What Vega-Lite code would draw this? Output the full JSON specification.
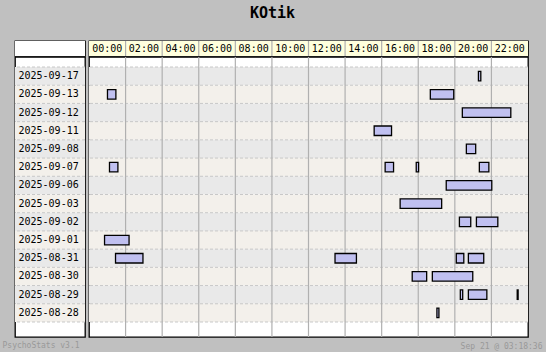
{
  "$schema": "https://vega.github.io/schema/vega-lite/v6.json",
  "background": "#c0c0c0",
  "padding": {"left": 1, "top": 5, "right": 4, "bottom": 0},
  "bounds": "flush",
  "columns": 2,
  "spacing": {"row": 1, "column": 4},
  "title": {"text": "KOtik", "font": "DejaVu Sans Mono", "fontSize": 15, "fontWeight": "bold", "color": "#000000", "anchor": "middle", "offset": 19},
  "config": {
    "view": {"stroke": "#000000", "strokeWidth": 1.3, "fill": "#ffffff"},
    "text": {"font": "DejaVu Sans Mono"}
  },
  "datasets": {
    "days": [
      {"date": "2025-09-17"}, {"date": "2025-09-13"}, {"date": "2025-09-12"}, {"date": "2025-09-11"},
      {"date": "2025-09-08"}, {"date": "2025-09-07"}, {"date": "2025-09-06"}, {"date": "2025-09-03"},
      {"date": "2025-09-02"}, {"date": "2025-09-01"}, {"date": "2025-08-31"}, {"date": "2025-08-30"},
      {"date": "2025-08-29"}, {"date": "2025-08-28"}
    ],
    "cells": [
      {"start": 0, "end": 2, "label": "00:00"}, {"start": 2, "end": 4, "label": "02:00"},
      {"start": 4, "end": 6, "label": "04:00"}, {"start": 6, "end": 8, "label": "06:00"},
      {"start": 8, "end": 10, "label": "08:00"}, {"start": 10, "end": 12, "label": "10:00"},
      {"start": 12, "end": 14, "label": "12:00"}, {"start": 14, "end": 16, "label": "14:00"},
      {"start": 16, "end": 18, "label": "16:00"}, {"start": 18, "end": 20, "label": "18:00"},
      {"start": 20, "end": 22, "label": "20:00"}, {"start": 22, "end": 24, "label": "22:00"}
    ],
    "bars": [
      {"date": "2025-09-17", "start": 21.29, "end": 21.42},
      {"date": "2025-09-13", "start": 1.01, "end": 1.47},
      {"date": "2025-09-13", "start": 18.66, "end": 19.94},
      {"date": "2025-09-12", "start": 20.41, "end": 23.06},
      {"date": "2025-09-11", "start": 15.59, "end": 16.54},
      {"date": "2025-09-08", "start": 20.63, "end": 21.14},
      {"date": "2025-09-07", "start": 1.12, "end": 1.58},
      {"date": "2025-09-07", "start": 16.19, "end": 16.65},
      {"date": "2025-09-07", "start": 17.89, "end": 18.02},
      {"date": "2025-09-07", "start": 21.34, "end": 21.86},
      {"date": "2025-09-06", "start": 19.53, "end": 22.02},
      {"date": "2025-09-03", "start": 17.01, "end": 19.28},
      {"date": "2025-09-02", "start": 20.25, "end": 20.87},
      {"date": "2025-09-02", "start": 21.18, "end": 22.35},
      {"date": "2025-09-01", "start": 0.85, "end": 2.19},
      {"date": "2025-08-31", "start": 1.45, "end": 2.95},
      {"date": "2025-08-31", "start": 13.45, "end": 14.62},
      {"date": "2025-08-31", "start": 20.08, "end": 20.49},
      {"date": "2025-08-31", "start": 20.74, "end": 21.58},
      {"date": "2025-08-30", "start": 17.67, "end": 18.46},
      {"date": "2025-08-30", "start": 18.77, "end": 20.98},
      {"date": "2025-08-29", "start": 20.30, "end": 20.43},
      {"date": "2025-08-29", "start": 20.74, "end": 21.75},
      {"date": "2025-08-29", "start": 23.41, "end": 23.46},
      {"date": "2025-08-28", "start": 19.02, "end": 19.13}
    ]
  },
  "concat": [
    {
      "width": 70, "height": 15,
      "data": {"values": [{"k": 1}]},
      "mark": {"type": "rect", "fill": "#ffffff"},
      "encoding": {
        "x": {"datum": 0, "type": "quantitative", "scale": {"domain": [0, 1], "nice": false}, "axis": null},
        "x2": {"datum": 1}
      }
    },
    {
      "width": 439, "height": 15,
      "data": {"name": "cells"},
      "layer": [
        {
          "mark": {"type": "rect", "fill": "#ffffdd"},
          "encoding": {
            "x": {"field": "start", "type": "quantitative", "scale": {"domain": [0, 24], "nice": false, "zero": false}, "axis": null},
            "x2": {"field": "end"}
          }
        },
        {
          "transform": [{"filter": "datum.start > 0"}],
          "mark": {"type": "rule", "color": "#b0b0b0", "strokeWidth": 1.2},
          "encoding": {"x": {"field": "start", "type": "quantitative"}}
        },
        {
          "mark": {"type": "text", "align": "center", "baseline": "middle", "dx": 18.3, "fontSize": 10, "color": "#000000"},
          "encoding": {
            "x": {"field": "start", "type": "quantitative"},
            "text": {"field": "label"}
          }
        }
      ]
    },
    {
      "width": 70, "height": 280,
      "title": {"text": "PsychoStats v3.1", "orient": "bottom", "anchor": "start", "dx": -12, "offset": 5, "font": "DejaVu Sans Mono", "fontSize": 8, "fontWeight": "normal", "color": "#999999"},
      "data": {"name": "days"},
      "layer": [
        {
          "mark": {"type": "rect"},
          "encoding": {
            "y": {"field": "date", "type": "nominal", "sort": null, "axis": null,
              "scale": {"domain": ["2025-09-17","2025-09-13","2025-09-12","2025-09-11","2025-09-08","2025-09-07","2025-09-06","2025-09-03","2025-09-02","2025-09-01","2025-08-31","2025-08-30","2025-08-29","2025-08-28"], "paddingInner": 0, "paddingOuter": 0.687, "align": 0.4}},
            "color": {"field": "date", "type": "nominal", "legend": null,
              "scale": {"domain": ["2025-09-17","2025-09-13","2025-09-12","2025-09-11","2025-09-08","2025-09-07","2025-09-06","2025-09-03","2025-09-02","2025-09-01","2025-08-31","2025-08-30","2025-08-29","2025-08-28"],
                "range": ["#e9e9e9","#f3f0eb","#e9e9e9","#f3f0eb","#e9e9e9","#f3f0eb","#e9e9e9","#f3f0eb","#e9e9e9","#f3f0eb","#e9e9e9","#f3f0eb","#e9e9e9","#f3f0eb"]}}
          }
        },
        {
          "mark": {"type": "rule", "color": "#c8c8c8", "strokeDash": [3, 2], "strokeWidth": 1},
          "encoding": {"y": {"field": "date", "type": "nominal", "bandPosition": 0}}
        },
        {
          "transform": [{"filter": "datum.date == '2025-08-28'"}],
          "mark": {"type": "rule", "color": "#c8c8c8", "strokeDash": [3, 2], "strokeWidth": 1},
          "encoding": {"y": {"field": "date", "type": "nominal", "bandPosition": 1}}
        },
        {
          "mark": {"type": "text", "align": "left", "baseline": "middle", "dx": 3.5, "fontSize": 10, "color": "#000000"},
          "encoding": {
            "x": {"datum": 0, "type": "quantitative", "scale": {"domain": [0, 1]}, "axis": null},
            "y": {"field": "date", "type": "nominal"},
            "text": {"field": "date"}
          }
        }
      ]
    },
    {
      "width": 439, "height": 280,
      "title": {"text": "Sep 21 @ 03:18:36", "orient": "bottom", "anchor": "end", "dx": 14, "offset": 5, "font": "DejaVu Sans Mono", "fontSize": 8, "fontWeight": "normal", "color": "#999999"},
      "layer": [
        {
          "data": {"name": "days"},
          "mark": {"type": "rect"},
          "encoding": {
            "y": {"field": "date", "type": "nominal", "sort": null, "axis": null,
              "scale": {"domain": ["2025-09-17","2025-09-13","2025-09-12","2025-09-11","2025-09-08","2025-09-07","2025-09-06","2025-09-03","2025-09-02","2025-09-01","2025-08-31","2025-08-30","2025-08-29","2025-08-28"], "paddingInner": 0, "paddingOuter": 0.687, "align": 0.4}},
            "color": {"field": "date", "type": "nominal", "legend": null}
          }
        },
        {
          "data": {"name": "days"},
          "mark": {"type": "rule", "color": "#c8c8c8", "strokeDash": [3, 2], "strokeWidth": 1},
          "encoding": {"y": {"field": "date", "type": "nominal", "bandPosition": 0}}
        },
        {
          "data": {"name": "days"},
          "transform": [{"filter": "datum.date == '2025-08-28'"}],
          "mark": {"type": "rule", "color": "#c8c8c8", "strokeDash": [3, 2], "strokeWidth": 1},
          "encoding": {"y": {"field": "date", "type": "nominal", "bandPosition": 1}}
        },
        {
          "data": {"name": "cells"},
          "transform": [{"filter": "datum.start > 0"}],
          "mark": {"type": "rule", "color": "#b0b0b0", "strokeWidth": 1.2},
          "encoding": {"x": {"field": "start", "type": "quantitative", "scale": {"domain": [0, 24], "nice": false, "zero": false}, "axis": null}}
        },
        {
          "data": {"name": "bars"},
          "mark": {"type": "bar", "fill": "#c0c0f0", "stroke": "#000000", "strokeWidth": 1.3, "size": 9.5},
          "encoding": {
            "x": {"field": "start", "type": "quantitative"},
            "x2": {"field": "end"},
            "y": {"field": "date", "type": "nominal"}
          }
        }
      ]
    }
  ]
}
